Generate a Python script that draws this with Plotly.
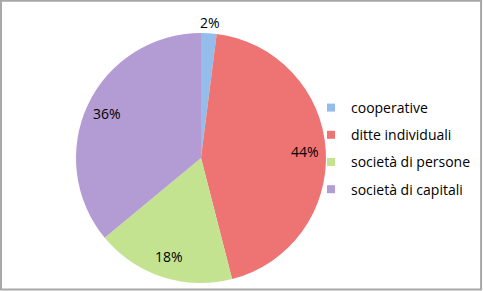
import math
import plotly.graph_objects as go

categories = ["cooperative", "ditte individuali", "società di persone", "società di capitali"]
values = [2, 44, 18, 36]
colors = ["#94BDEB", "#EE7474", "#C4E391", "#B39BD4"]
label_positions = ["outside", "inside", "inside", "inside"]

W, H = 483, 291
cx, cy, R = 201, 158, 125
font_family = "'Open Sans', sans-serif"

fig = go.Figure()
fig.add_trace(go.Pie(
    labels=categories, values=values, sort=False, direction="clockwise", rotation=0,
    marker=dict(colors=colors, line=dict(width=0)),
    textinfo="none", showlegend=False, hoverinfo="label+percent",
    domain=dict(x=[(cx - R) / W, (cx + R) / W], y=[1 - (cy + R) / H, 1 - (cy - R) / H]),
))

# legend entries (one group each so spacing matches)
for i, (name, col) in enumerate(zip(categories, colors)):
    fig.add_trace(go.Scatter(
        x=[None], y=[None], mode="markers", name=name, legendgroup=f"g{i}",
        marker=dict(symbol="square", size=8, color=col),
    ))

# percentage labels, positioned from the data
total = sum(values)
cum = 0
annotations = []
for v, pos in zip(values, label_positions):
    mid = (cum + v / 2) / total * 2 * math.pi
    cum += v
    f = 1.09 if pos == "outside" else 0.83
    x = cx + f * R * math.sin(mid)
    y = cy - f * R * math.cos(mid)
    annotations.append(dict(
        x=x / W, y=1 - y / H, xref="paper", yref="paper", showarrow=False,
        text=f"{round(v / total * 100)}%", font=dict(size=14, color="#000000", family=font_family),
        xanchor="center", yanchor="middle",
    ))

fig.update_layout(
    width=W, height=H, margin=dict(l=0, r=0, t=0, b=0),
    paper_bgcolor="white", plot_bgcolor="white",
    xaxis=dict(visible=False), yaxis=dict(visible=False),
    annotations=annotations,
    legend=dict(
        x=311 / W, y=1 - 92 / H, xanchor="left", yanchor="top",
        font=dict(size=14, family=font_family, color="#000000"),
        tracegroupgap=6, itemsizing="trace", bgcolor="rgba(0,0,0,0)",
    ),
    shapes=[dict(type="rect", xref="paper", yref="paper", x0=0.002, x1=0.996, y0=0.005, y1=0.997,
                 line=dict(color="#A8A8A8", width=2), fillcolor="rgba(0,0,0,0)")],
)

fig.write_html("out.html")
